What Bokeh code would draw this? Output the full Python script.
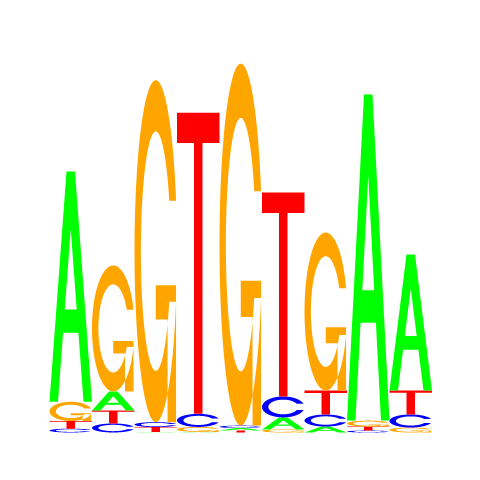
import numpy as np
from bokeh.plotting import figure
from bokeh.models import ColumnDataSource, Range1d
from bokeh.embed import file_html
from bokeh.resources import INLINE

# motif columns and letter heights (bits)
positions = [1, 2, 3, 4, 5, 6, 7, 8, 9]
A_bits = [1.20, 0.099, 0.003, 0.003, 0.012, 0.0625, 0.031, 1.698, 0.708]
C_bits = [0.020, 0.047, 0.026, 0.068, 0.013, 0.109, 0.0625, 0.010, 0.068]
G_bits = [0.100, 0.656, 1.781, 0.026, 1.885, 0.016, 0.823, 0.031, 0.026]
T_bits = [0.040, 0.068, 0.025, 1.568, 0.011, 1.0625, 0.125, 0.021, 0.125]

colors = {"A": "#00FF00", "C": "#0000FF", "G": "#FFA500", "T": "#FF0000"}


# letter outlines in a unit box (seqLogo style)
def arc_shape():
    a1 = np.linspace(0.3 + np.pi / 2, np.pi, 100)
    a2 = np.linspace(np.pi, 1.5 * np.pi, 100)
    xl = np.concatenate([0.5 + 0.5 * np.sin(a1), 0.5 + 0.5 * np.sin(a2)])
    yl = np.concatenate([0.5 + 0.5 * np.cos(a1), 0.5 + 0.5 * np.cos(a2)])
    xo = np.concatenate([xl, xl[::-1]])
    yo = np.concatenate([yl, 1 - yl[::-1]])
    ymax = (0.5 + 0.5 * np.cos(a1)).max()
    xi1 = 0.5 + 0.35 * np.sin(a1)
    yi1 = 0.5 + 0.35 * np.cos(a1)
    keep = yi1 <= ymax
    xi1, yi1 = xi1[keep], yi1[keep]
    yi1[0] = ymax
    xi = np.concatenate([xi1, 0.5 + 0.35 * np.sin(a2)])
    yi = np.concatenate([yi1, 0.5 + 0.35 * np.cos(a2)])
    xin = np.concatenate([xi, xi[::-1]])
    yin = np.concatenate([yi, 1 - yi[::-1]])
    x = np.concatenate([xo, xin[::-1]])
    y = np.concatenate([yo, yin[::-1]])
    return x, y, (0.5 + 0.5 * np.sin(a1)).max()


def letter(ch):
    if ch == "A":
        return [[(np.array([0, 4, 6, 10, 8, 6.8, 3.2, 2, 0]) / 10, np.array([0, 10, 10, 0, 0, 3, 3, 0, 0]) / 10),
                 (np.array([3.6, 5, 6.4, 3.6]) / 10, np.array([4, 7.5, 4, 4]) / 10)]]
    if ch == "T":
        return [[(np.array([0, 10, 10, 6, 6, 4, 4, 0]) / 10, np.array([10, 10, 9, 9, 0, 0, 9, 9]) / 10)]]
    x, y, r1 = arc_shape()
    if ch == "C":
        return [[(x, y)]]
    h1 = 0.4
    bx = np.array([r1, 0.5, 0.5, r1 - 0.2, r1 - 0.2, r1, r1])
    by = np.array([h1, h1, h1 - 0.1, h1 - 0.1, 0, 0, h1])
    return [[(x, y)], [(bx, by)]]


xs, ys, cols = [], [], []
for i, pos in enumerate(positions):
    heights = {"A": A_bits[i], "C": C_bits[i], "G": G_bits[i], "T": T_bits[i]}
    base = 0.0
    for ch in sorted(heights, key=lambda k: heights[k]):
        h = heights[ch]
        polys_x, polys_y = [], []
        for poly in letter(ch):
            px, py = [], []
            for rx, ry in poly:
                px.append(list(pos - 0.5 + rx))
                py.append(list(base + h * ry))
            polys_x.append(px)
            polys_y.append(py)
        xs.append(polys_x)
        ys.append(polys_y)
        cols.append(colors[ch])
        base += h

source = ColumnDataSource(dict(xs=xs, ys=ys, color=cols))

p = figure(width=464, height=464, output_backend="svg", toolbar_location=None,
           x_range=Range1d(-0.6529, 10.2647), y_range=Range1d(-0.1667, 2.25),
           min_border=0)
p.multi_polygons(xs="xs", ys="ys", fill_color="color", line_color=None, source=source)
p.axis.visible = False
p.grid.visible = False
p.outline_line_color = None
p.background_fill_color = "white"

open("out.html", "w").write(file_html(p, INLINE))
